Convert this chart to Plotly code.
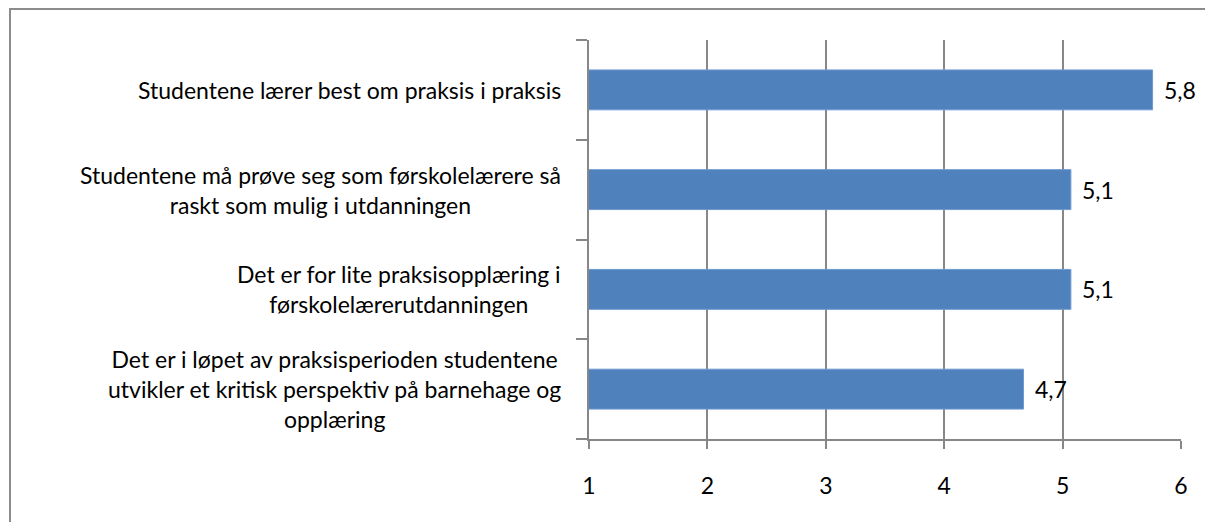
import plotly.graph_objects as go

# categories (top to bottom) and mean scores
statements = [
    "Studentene lærer best om praksis i praksis",
    "Studentene må prøve seg som førskolelærere så<br>raskt som mulig i utdanningen",
    "Det er for lite praksisopplæring i<br>førskolelærerutdanningen",
    "Det er i løpet av praksisperioden studentene<br>utvikler et kritisk perspektiv på barnehage og<br>opplæring",
]
scores = [5.76, 5.07, 5.07, 4.67]
x_ticks = [1, 2, 3, 4, 5, 6]

score_labels = [f"{v:.1f}".replace(".", ",") for v in scores]

# page is shifted by the 8px body margin, so work in figure pixels
W, H = 1205, 514
L, R, T, B = 581, 32, 32, 83
pw, ph = W - L - R, H - T - B

def px_x(px):
    return (px - L) / pw

def px_y(py):
    return (H - B - py) / ph

FONT = "Lato"
FS = 23
BAR = "#4F81BD"
GRID = "#878787"

fig = go.Figure()
fig.add_trace(go.Bar(
    y=statements,
    x=scores,
    orientation="h",
    marker=dict(color=BAR, line=dict(color="#6F9AD0", width=1)),
    showlegend=False,
))

for s in statements:
    fig.add_annotation(
        x=px_x(555), xref="paper", xanchor="right",
        y=s, yref="y", yanchor="middle",
        text=s, align="center", showarrow=False,
        font=dict(family=FONT, size=FS, color="black"),
    )

# value labels next to bar ends
for s, v, lab in zip(statements, scores, score_labels):
    fig.add_annotation(
        x=v, y=s, xref="x", yref="y",
        xanchor="left", yanchor="middle", xshift=9,
        text=lab, showarrow=False,
        font=dict(family=FONT, size=FS, color="black"),
    )

# outer chart border (right and bottom edges fall outside the view)
fig.add_shape(
    type="rect", xref="paper", yref="paper",
    x0=px_x(2), x1=px_x(1230), y0=px_y(540), y1=px_y(1),
    line=dict(color="#8C8C8C", width=2),
)

fig.update_layout(
    width=W, height=H,
    margin=dict(l=L, r=R, t=T, b=B),
    paper_bgcolor="white", plot_bgcolor="white",
    bargap=0.6,
    font=dict(family=FONT, size=FS, color="black"),
    xaxis=dict(
        range=[1, 6], tickvals=x_ticks, ticktext=[str(t) for t in x_ticks],
        showgrid=True, gridcolor=GRID, gridwidth=1.5,
        showline=True, linecolor=GRID, linewidth=1.5,
        ticks="outside", ticklen=8, tickcolor=GRID, tickwidth=1.5,
        ticklabelstandoff=18,
        tickfont=dict(family=FONT, size=FS, color="black"),
        zeroline=False, fixedrange=True,
    ),
    yaxis=dict(
        categoryorder="array", categoryarray=statements[::-1],
        showticklabels=False, tickson="boundaries",
        ticks="outside", ticklen=11, tickcolor=GRID, tickwidth=1.5,
        showline=True, linecolor=GRID, linewidth=1.5,
        showgrid=False, zeroline=False, fixedrange=True,
    ),
)

fig.write_html("out.html", config={"displayModeBar": False})
